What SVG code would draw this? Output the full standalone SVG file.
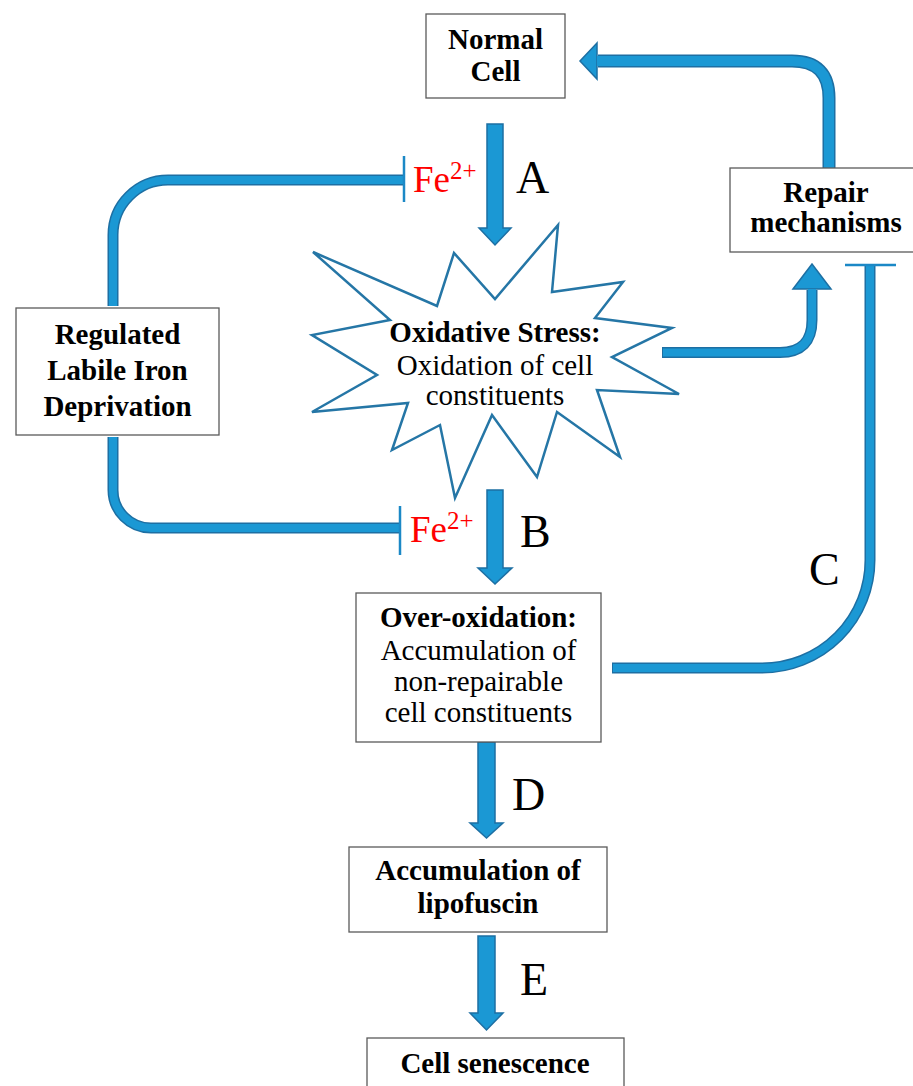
<svg xmlns="http://www.w3.org/2000/svg" width="913" height="1086" viewBox="0 0 913 1086">
<style>
.box{fill:#fff;stroke:#5a5a5a;stroke-width:1.3}
.t{font-family:"Liberation Serif","Times New Roman",serif;font-size:29px;fill:#000;text-anchor:middle}
.b{font-weight:bold}
.lbl{font-family:"Liberation Serif","Times New Roman",serif;font-size:46px;fill:#000}
.fe{font-family:"Liberation Serif","Times New Roman",serif;font-size:37px;fill:#ff0000}
.sup{font-size:25px}
.eo{fill:none;stroke:#1d6fa3;stroke-width:11}
.ei{fill:none;stroke:#1b98d4;stroke-width:8}
.ah{fill:#1b98d4;stroke:#1d6fa3;stroke-width:1.5;stroke-linejoin:miter}
.bar{stroke:#1b88c6;stroke-width:2.5}
.star{fill:#fff;stroke:#2576a6;stroke-width:2.5;stroke-linejoin:miter}
</style>
<g id="connectors">
  <polygon class="ah" points="487,124 503,124 503,228 511,228 495,245 479,228 487,228"/>
  <polygon class="ah" points="487,490 503,490 503,568 512,568 495,584 478,568 487,568"/>
  <polygon class="ah" points="478,742 495,742 495,823 503,823 486.5,838 470,823 478,823"/>
  <polygon class="ah" points="478,936 495,936 495,1013 503,1013 486.5,1030 470,1013 478,1013"/>
  <polygon class="ah" points="597,43 580,61 597,79"/>
  <path class="eo" d="M829,168 V98 Q829,61 792,61 H598" style="stroke-width:13"/>
  <path class="ei" d="M829,169 V98 Q829,61 792,61 H597" style="stroke-width:10"/>
  <polygon class="ah" points="793,289 812,264 831,289"/>
  <path class="eo" d="M662,352.5 H780 Q812,352.5 812,320 V290"/>
  <path class="ei" d="M663,352.5 H780 Q812,352.5 812,320 V289"/>
  <path class="eo" d="M612,668 H762 A108,108 0 0 0 870,560 V266"/>
  <path class="ei" d="M613,668 H762 A108,108 0 0 0 870,560 V266"/>
  <line class="bar" x1="845" y1="265" x2="896" y2="265"/>
  <path class="eo" d="M113,306 V235 A55,55 0 0 1 168,180 H403"/>
  <path class="ei" d="M113,306 V235 A55,55 0 0 1 168,180 H403"/>
  <line class="bar" x1="404" y1="156" x2="404" y2="202"/>
  <path class="eo" d="M113,437 V490 A38,38 0 0 0 151,528 H399"/>
  <path class="ei" d="M113,437 V490 A38,38 0 0 0 151,528 H399"/>
  <line class="bar" x1="400" y1="506" x2="400" y2="555"/>
  <text class="lbl" x="516" y="193">A</text>
  <text class="lbl" x="520" y="547">B</text>
  <text class="lbl" x="809" y="585">C</text>
  <text class="lbl" x="512" y="810">D</text>
  <text class="lbl" x="520" y="995">E</text>
  <text class="fe" x="413" y="192">Fe<tspan class="sup" dy="-13">2+</tspan></text>
  <text class="fe" x="410" y="542">Fe<tspan class="sup" dy="-13">2+</tspan></text>
</g>
<g id="normal-cell">
  <rect class="box" x="426" y="14" width="139" height="84"/>
  <text class="t b" x="495.5" y="49">Normal</text>
  <text class="t b" x="495.5" y="81">Cell</text>
</g>
<g id="repair">
  <rect class="box" x="730" y="168" width="190" height="84"/>
  <text class="t b" x="826" y="202">Repair</text>
  <text class="t b" x="826" y="232">mechanisms</text>
</g>
<g id="regulated">
  <rect class="box" x="16" y="308" width="203" height="127"/>
  <text class="t b" x="117.5" y="344">Regulated</text>
  <text class="t b" x="117.5" y="380">Labile Iron</text>
  <text class="t b" x="117.5" y="416">Deprivation</text>
</g>
<g id="oxidative-stress">
  <polygon class="star" points="313,252 437,306 454,253 495,299 558,225 552,292 623,282 595,318 672,328 612,357 679,394 597,390 620,457 557,412 537,477 492,415 455,498 440,425 392,450 408,403 312,412 377,375 312,335 390,320"/>
  <text class="t b" x="495" y="342">Oxidative Stress:</text>
  <text class="t" x="495" y="375">Oxidation of cell</text>
  <text class="t" x="495" y="405">constituents</text>
</g>
<g id="over-oxidation">
  <rect class="box" x="356" y="593" width="245" height="149"/>
  <text class="t b" x="478.5" y="627">Over-oxidation:</text>
  <text class="t" x="478.5" y="660">Accumulation of</text>
  <text class="t" x="478.5" y="691">non-repairable</text>
  <text class="t" x="478.5" y="722">cell constituents</text>
</g>
<g id="lipofuscin">
  <rect class="box" x="349" y="847" width="258" height="85"/>
  <text class="t b" x="478" y="880">Accumulation of</text>
  <text class="t b" x="478" y="913">lipofuscin</text>
</g>
<g id="senescence">
  <rect class="box" x="367" y="1038" width="257" height="60"/>
  <text class="t b" x="495" y="1073">Cell senescence</text>
</g>
</svg>
